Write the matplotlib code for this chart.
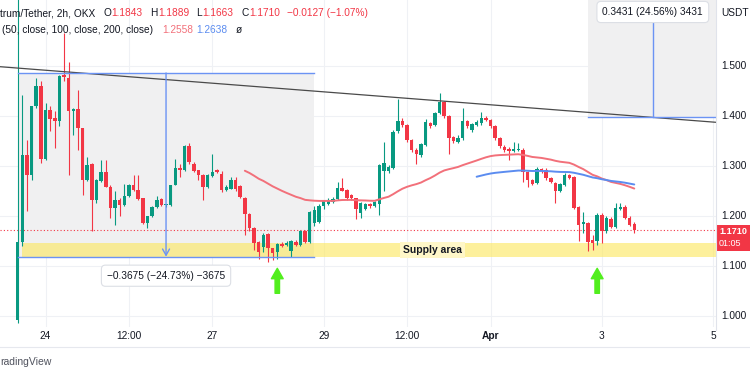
import matplotlib
matplotlib.use("Agg")
import matplotlib.pyplot as plt
import matplotlib.transforms as mtransforms
from matplotlib.patches import Rectangle
from matplotlib.lines import Line2D
import numpy as np
import pandas as pd

plt.rcParams['font.family'] = ['Liberation Sans', 'DejaVu Sans']

# ---------------- data ----------------
# 2h candles; time in hours relative to Mar 24 00:00 (first candle Mar 23 12:00)
start_hour = -12
step_hours = 2

opens = [0.992, 1.147, 1.322, 1.282, 1.419, 1.459, 1.315, 1.412, 1.395, 1.389,
         1.482, 1.475, 1.409, 1.413, 1.375, 1.272, 1.304, 1.232, 1.270, 1.289,
         1.259, 1.215, 1.231, 1.222, 1.239, 1.262, 1.252, 1.235, 1.185, 1.200,
         1.218, 1.233, 1.221, 1.221, 1.262, 1.297, 1.293, 1.340, 1.304, 1.292,
         1.283, 1.259, 1.280, 1.292, 1.285, 1.253, 1.255, 1.273, 1.260, 1.237,
         1.204, 1.175, 1.149, 1.138, 1.163, 1.135, 1.127, 1.145, 1.142, 1.129,
         1.149, 1.142, 1.170, 1.147, 1.186, 1.188, 1.219, 1.224, 1.227, 1.233,
         1.257, 1.252, 1.241, 1.235, 1.205, 1.214, 1.224, 1.219, 1.224, 1.290,
         1.291, 1.297, 1.369, 1.390, 1.382, 1.352, 1.333, 1.322, 1.342, 1.385,
         1.382, 1.406, 1.427, 1.399, 1.357, 1.348, 1.355, 1.389, 1.371, 1.382,
         1.385, 1.397, 1.392, 1.379, 1.355, 1.339, 1.335, 1.331, 1.332, 1.333,
         1.289, 1.273, 1.267, 1.295, 1.293, 1.276, 1.267, 1.251, 1.262, 1.282,
         1.279, 1.217, 1.183, 1.185, 1.152, 1.149, 1.202, 1.169, 1.195, 1.178,
         1.214, 1.218, 1.197, 1.1843]
highs = [1.750, 1.442, 1.352, 1.420, 1.475, 1.470, 1.425, 1.419, 1.409, 1.482,
         1.565, 1.509, 1.415, 1.452, 1.376, 1.319, 1.306, 1.274, 1.312, 1.312,
         1.262, 1.249, 1.235, 1.265, 1.264, 1.282, 1.282, 1.236, 1.200, 1.220,
         1.239, 1.236, 1.224, 1.263, 1.315, 1.305, 1.342, 1.345, 1.309, 1.293,
         1.285, 1.284, 1.324, 1.294, 1.291, 1.262, 1.278, 1.278, 1.262, 1.238,
         1.205, 1.177, 1.150, 1.165, 1.165, 1.136, 1.145, 1.147, 1.149, 1.152,
         1.152, 1.172, 1.172, 1.209, 1.220, 1.224, 1.232, 1.236, 1.238, 1.269,
         1.277, 1.254, 1.243, 1.236, 1.228, 1.226, 1.226, 1.230, 1.304, 1.348,
         1.303, 1.372, 1.433, 1.395, 1.384, 1.354, 1.336, 1.346, 1.393, 1.388,
         1.408, 1.445, 1.430, 1.401, 1.360, 1.362, 1.415, 1.392, 1.386, 1.392,
         1.407, 1.400, 1.394, 1.381, 1.357, 1.341, 1.337, 1.347, 1.345, 1.336,
         1.291, 1.275, 1.299, 1.297, 1.296, 1.278, 1.269, 1.267, 1.286, 1.284,
         1.281, 1.219, 1.207, 1.187, 1.162, 1.205, 1.205, 1.200, 1.198, 1.225,
         1.226, 1.222, 1.199, 1.1889]
lows = [0.985, 1.140, 1.209, 1.272, 1.415, 1.307, 1.312, 1.369, 1.335, 1.379,
        1.470, 1.282, 1.362, 1.332, 1.242, 1.270, 1.169, 1.225, 1.268, 1.258,
        1.195, 1.182, 1.199, 1.220, 1.237, 1.250, 1.232, 1.183, 1.175, 1.198,
        1.216, 1.219, 1.218, 1.219, 1.262, 1.279, 1.290, 1.305, 1.288, 1.272,
        1.231, 1.256, 1.278, 1.287, 1.247, 1.250, 1.254, 1.250, 1.236, 1.162,
        1.170, 1.132, 1.114, 1.128, 1.109, 1.112, 1.113, 1.138, 1.140, 1.118,
        1.140, 1.139, 1.145, 1.145, 1.180, 1.186, 1.214, 1.222, 1.225, 1.231,
        1.249, 1.232, 1.232, 1.194, 1.195, 1.211, 1.216, 1.217, 1.202, 1.249,
        1.286, 1.295, 1.366, 1.378, 1.348, 1.328, 1.304, 1.318, 1.340, 1.376,
        1.380, 1.404, 1.396, 1.325, 1.345, 1.345, 1.352, 1.376, 1.368, 1.379,
        1.382, 1.389, 1.376, 1.352, 1.336, 1.329, 1.312, 1.329, 1.330, 1.269,
        1.259, 1.262, 1.265, 1.287, 1.273, 1.266, 1.225, 1.248, 1.260, 1.275,
        1.214, 1.149, 1.165, 1.129, 1.132, 1.142, 1.146, 1.166, 1.176, 1.176,
        1.212, 1.193, 1.180, 1.1663]
closes = [1.148, 1.322, 1.282, 1.419, 1.459, 1.315, 1.412, 1.393, 1.389, 1.480,
          1.477, 1.409, 1.413, 1.375, 1.272, 1.302, 1.232, 1.272, 1.289, 1.259,
          1.215, 1.232, 1.222, 1.239, 1.262, 1.252, 1.233, 1.185, 1.200, 1.219,
          1.233, 1.221, 1.2215, 1.262, 1.295, 1.293, 1.340, 1.309, 1.291, 1.282,
          1.259, 1.282, 1.289, 1.289, 1.253, 1.259, 1.273, 1.255, 1.237, 1.204,
          1.176, 1.145, 1.128, 1.163, 1.135, 1.125, 1.143, 1.140, 1.146, 1.150,
          1.142, 1.170, 1.147, 1.207, 1.212, 1.220, 1.229, 1.229, 1.233, 1.257,
          1.251, 1.236, 1.235, 1.213, 1.226, 1.224, 1.219, 1.228, 1.302, 1.306,
          1.299, 1.369, 1.390, 1.382, 1.352, 1.332, 1.324, 1.344, 1.387, 1.379,
          1.406, 1.427, 1.399, 1.355, 1.349, 1.357, 1.389, 1.379, 1.383, 1.389,
          1.395, 1.392, 1.379, 1.355, 1.339, 1.332, 1.331, 1.335, 1.335, 1.289,
          1.273, 1.265, 1.295, 1.290, 1.276, 1.269, 1.251, 1.265, 1.282, 1.277,
          1.216, 1.182, 1.188, 1.147, 1.146, 1.202, 1.169, 1.196, 1.178, 1.215,
          1.218, 1.195, 1.182, 1.1710]

ma_lengths = [50, 100]

tick_hours = [0, 36, 72, 120, 156, 192, 240, 288]
tick_labels = ['24', '12:00', '27', '29', '12:00', 'Apr', '3', '5']
price_ticks = [1.0, 1.1, 1.2, 1.3, 1.4, 1.5]
price_tick_labels = ['1.000', '1.100', '1.200', '1.300', '1.400', '1.500']

# drawings (time in hours, price)
trend_times = [-19.63, 289.26]
trend_prices = [1.4986, 1.3874]
drop_times = [-12, 116]          # measured drop box
drop_prices = [1.4861, 1.1186]
rise_times = [234, 290]          # measured rise box
rise_prices = [1.3974, 1.7405]
supply_times = [-10, 300]
supply_prices = [1.1173, 1.1466]
arrow_times = [100, 238]
arrow_prices = [1.0454, 1.0954]  # tail, tip
last_price = 1.1710

header_name = 'trum/Tether, 2h, OKX'
header_ohlc = [('O', '1.1843'), ('H', '1.1889'), ('L', '1.1663'), ('C', '1.1710')]
header_change = '\u22120.0127 (\u22121.07%)'
ma_values = ['1.2558', '1.2638']

# ---------------- figure ----------------
W, H, DPI = 750, 375, 100
fig = plt.figure(figsize=(W / DPI, H / DPI), dpi=DPI)
fig.patch.set_facecolor('white')
PLOT_R, PLOT_B = 716, 327
ax = fig.add_axes([0, 1 - PLOT_B / H, PLOT_R / W, PLOT_B / H])
ax.set_xlim(-19.63, 289.26)
ax.set_ylim(0.978, 1.632)
ax.axis('off')

def fx(x):
    return x / W

def fy(y):
    return 1 - y / H

UP, DOWN = '#089981', '#f23645'
BLUE = '#6b93f4'
GRID = '#eff1f5'
TXT = '#131722'

# grid
for p in price_ticks:
    ax.axhline(p, color=GRID, lw=0.8, zorder=0)
for t in tick_hours:
    ax.axvline(t, color=GRID, lw=0.8, zorder=0)

# measure boxes (gray) and supply zone
ax.add_patch(Rectangle((drop_times[0], drop_prices[1]), drop_times[1] - drop_times[0],
                       drop_prices[0] - drop_prices[1], fc='#f0f0f1', ec='none', zorder=1))
ax.add_patch(Rectangle((rise_times[0], rise_prices[0]), rise_times[1] - rise_times[0],
                       rise_prices[1] - rise_prices[0], fc='#f0f0f1', ec='none', zorder=1))
ax.add_patch(Rectangle((supply_times[0], supply_prices[0]), supply_times[1] - supply_times[0],
                       supply_prices[1] - supply_prices[0], fc='#fde75a', alpha=0.6,
                       ec='none', zorder=1.5))

# candles
n = len(closes)
times = start_hour + step_hours * np.arange(n)
o = np.array(opens); c = np.array(closes); hi = np.array(highs); lo = np.array(lows)
colors = np.where(c >= o, UP, DOWN)
ax.vlines(times, lo, hi, colors=colors, lw=0.8, zorder=3)
bottoms = np.minimum(o, c)
heights = np.maximum(np.abs(c - o), 0.0022)
ax.bar(times, heights, bottom=bottoms, width=1.5, color=colors, linewidth=0, zorder=3)

# moving averages (EMA seeded with SMA)
def pine_ema(values, length):
    s = pd.Series(values, dtype=float)
    out = pd.Series(np.nan, index=s.index)
    tail = s.iloc[length - 1:].copy()
    tail.iloc[0] = s.iloc[:length].mean()
    out.iloc[length - 1:] = tail.ewm(alpha=2 / (length + 1), adjust=False).mean().values
    return out

ema_colors = ['#f2707a', '#5b8cf0']
for L, col in zip(ma_lengths, ema_colors):
    ax.plot(times, pine_ema(closes, L), color=col, lw=1.4, zorder=4, solid_capstyle='round')

# trend line
ax.plot(trend_times, trend_prices, color='#4a4a4a', lw=0.9, zorder=5)

# measure box lines
ax.plot(drop_times, [drop_prices[0]] * 2, color=BLUE, lw=1.0, zorder=5)
ax.plot(drop_times, [drop_prices[1]] * 2, color=BLUE, lw=1.0, zorder=5)
mid_drop = (drop_times[0] + drop_times[1]) / 2
ax.annotate('', xy=(mid_drop, drop_prices[1]), xytext=(mid_drop, drop_prices[0]),
            arrowprops=dict(arrowstyle='->,head_length=0.45,head_width=0.25', color=BLUE,
                            lw=1.0, shrinkA=0, shrinkB=0), zorder=5)
ax.plot(rise_times, [rise_prices[0]] * 2, color=BLUE, lw=1.0, zorder=5)
mid_rise = (rise_times[0] + rise_times[1]) / 2
ax.plot([mid_rise, mid_rise], [rise_prices[0], 1.59], color=BLUE, lw=1.0, zorder=5)

# current price line
ax.axhline(last_price, color=DOWN, lw=0.8, ls=(0, (1, 2)), zorder=2)

# green arrows
for t in arrow_times:
    ax.annotate('', xy=(t, arrow_prices[1]), xytext=(t, arrow_prices[0]),
                arrowprops=dict(arrowstyle='simple,head_length=0.75,head_width=0.85,tail_width=0.32',
                                color='#52ee1e', shrinkA=0, shrinkB=0, mutation_scale=10), zorder=6)

# supply label
ax.text(167, (supply_prices[0] + supply_prices[1]) / 2, 'Supply area', ha='center', va='center',
        fontsize=7.5, fontweight='bold', color=TXT, zorder=6,
        bbox=dict(boxstyle='square,pad=0.25', fc='#fff7c8', ec='none'))

# measure labels
ax.text(mid_drop, 1.1186 - 0.038, '\u22120.3675 (\u221224.73%) \u22123675', ha='center', va='center',
        fontsize=7.3, color=TXT, zorder=7,
        bbox=dict(boxstyle='round,pad=0.55,rounding_size=0.4', fc='white', ec='#dcdfe5', lw=0.8))
trx = mtransforms.blended_transform_factory(ax.transData, fig.transFigure)
fig.text(mid_rise, fy(12), '0.3431 (24.56%) 3431', ha='center', va='center', transform=trx,
         fontsize=7.3, color=TXT, zorder=7,
         bbox=dict(boxstyle='round,pad=0.55,rounding_size=0.4', fc='white', ec='#dcdfe5', lw=0.8))

# time axis labels
for t, lab in zip(tick_hours, tick_labels):
    fig.text(t, fy(336), lab, transform=trx, ha='center', va='center', fontsize=7.3, color=TXT,
             fontweight='bold' if lab == 'Apr' else 'normal')

# price axis
try_y = mtransforms.blended_transform_factory(fig.transFigure, ax.transData)
for p, lab in zip(price_ticks, price_tick_labels):
    fig.text(fx(721), p, lab, transform=try_y, ha='left', va='center', fontsize=7.3, color=TXT)
fig.text(fx(721), fy(13), 'USDT', ha='left', va='center', fontsize=7.3, color=TXT)
fig.add_artist(Line2D([fx(PLOT_R), fx(PLOT_R)], [fy(0), fy(330)], color='#e0e3eb', lw=0.8))
fig.add_artist(Line2D([0, 1], [fy(347), fy(347)], color='#e6e8ee', lw=0.8))

# last price tag
fig.add_artist(Rectangle((fx(717), fy(251)), fx(33), 26 / H, transform=fig.transFigure,
                         fc=DOWN, ec='none'))
fig.text(fx(719), fy(232), '1.1710', ha='left', va='center', fontsize=6.5, color='white',
         fontweight='bold')
fig.text(fx(719), fy(244), '01:05', ha='left', va='center', fontsize=6.5, color='white')

# header
fs = 7.3
renderer = fig.canvas.get_renderer()
fig.text(fx(0), fy(13), header_name, ha='left', va='center', fontsize=fs, color=TXT)
xpos = 103
for k, v in header_ohlc:
    t1 = fig.text(fx(xpos), fy(13), k, ha='left', va='center', fontsize=fs, color=TXT)
    w1 = t1.get_window_extent(renderer).width
    t2 = fig.text(fx(xpos + w1 + 0.5), fy(13), v, ha='left', va='center', fontsize=fs, color=DOWN)
    w2 = t2.get_window_extent(renderer).width
    xpos += w1 + w2 + 8
fig.text(fx(xpos), fy(13), header_change, ha='left', va='center', fontsize=fs, color=DOWN)
fig.text(fx(2), fy(30), '(50, close, 100, close, 200, close)', ha='left', va='center',
         fontsize=fs, color=TXT)
fig.text(fx(162), fy(30), ma_values[0], ha='left', va='center', fontsize=fs, color=ema_colors[0])
fig.text(fx(196), fy(30), ma_values[1], ha='left', va='center', fontsize=fs, color=ema_colors[1])
fig.text(fx(236), fy(30), '\u00f8', ha='left', va='center', fontsize=fs, color=TXT)

fig.text(fx(0), fy(362), 'radingView', ha='left', va='center', fontsize=7.5, color='#50535e')

fig.savefig('out.png', dpi=DPI, facecolor='white')
